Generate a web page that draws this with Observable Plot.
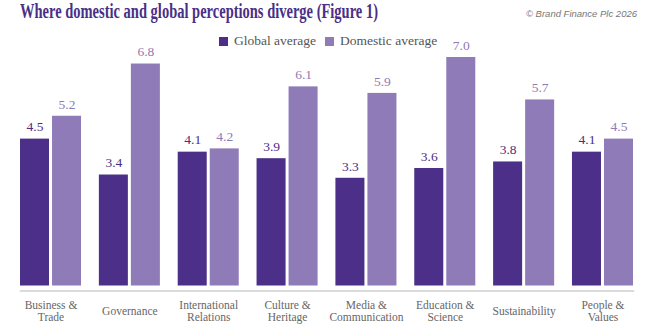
<!DOCTYPE html>
<html>
<head>
<meta charset="utf-8">
<script src="https://cdn.jsdelivr.net/npm/d3@7"></script>
<script src="https://cdn.jsdelivr.net/npm/@observablehq/plot@0.6"></script>
<style>
  html, body { margin: 0; padding: 0; background: #fff; }
  #wrap { position: relative; width: 669px; height: 333px; overflow: hidden; }
  #title { position: absolute; left: 20px; top: 0px; font-family: "Liberation Serif", serif; font-weight: bold; font-size: 20px; color: #4a2f87; white-space: nowrap; transform-origin: left top; }
  #credit { position: absolute; right: 32px; top: 8px; font-family: "Liberation Sans", sans-serif; font-style: italic; font-size: 9.5px; color: #777; white-space: nowrap; }
  #legend { position: absolute; left: 219px; top: 33px; font-family: "Liberation Serif", serif; font-size: 13.5px; color: #555; white-space: nowrap; display: flex; align-items: center; }
  #legend .sw { display: inline-block; width: 9px; height: 9px; margin-right: 6px; }
  #legend .item { display: flex; align-items: center; margin-right: 9px; }
  #chart { position: absolute; left: 0; top: 0; }
</style>
</head>
<body>
<div id="wrap">
  <div id="chart"></div>
  <div id="title">Where domestic and global perceptions diverge (Figure 1)</div>
  <div id="credit">© Brand Finance Plc 2026</div>
  <div id="legend"></div>
</div>
<script>
const categories = ["Business & Trade", "Governance", "International Relations", "Culture & Heritage", "Media & Communication", "Education & Science", "Sustainability", "People & Values"];
const categoryLabels = ["Business &\nTrade", "Governance", "International\nRelations", "Culture &\nHeritage", "Media &\nCommunication", "Education &\nScience", "Sustainability", "People &\nValues"];
const seriesNames = ["Global average", "Domestic average"];
const globalValues = [4.5, 3.4, 4.1, 3.9, 3.3, 3.6, 3.8, 4.1];
const domesticValues = [5.2, 6.8, 4.2, 6.1, 5.9, 7.0, 5.7, 4.5];
const barColors = ["#4b2f88", "#8f7bb8"];
const labelColors = ["#4b2e83", "#8e7ab5"];

const data = [];
categories.forEach((c, i) => {
  data.push({category: c, series: seriesNames[0], value: globalValues[i]});
  data.push({category: c, series: seriesNames[1], value: domesticValues[i]});
});
const labelMap = new Map(categories.map((c, i) => [c, categoryLabels[i]]));

const chart = Plot.plot({
  width: 669,
  height: 333,
  marginTop: 57,
  marginBottom: 47.5,
  marginLeft: 20,
  marginRight: 36,
  style: {background: "transparent"},
  fx: {domain: categories, paddingInner: 0.226, paddingOuter: 0, round: false, label: null},
  x: {domain: seriesNames, paddingInner: 0.094, paddingOuter: 0, round: false, axis: null},
  y: {domain: [0, 7], axis: null},
  color: {domain: seriesNames, range: barColors},
  marks: [
    Plot.frame({facet: "super", anchor: "bottom", stroke: "#cfcfcf", strokeWidth: 1.5, dy: 5}),
    Plot.barY(data, {fx: "category", x: "series", y: "value", fill: "series"}),
    Plot.text(data, {
      fx: "category", x: "series", y: "value",
      text: d => d.value.toFixed(1),
      fill: d => labelColors[seriesNames.indexOf(d.series)],
      dy: -12, fontSize: 13.5,
      fontFamily: "Liberation Serif, serif"
    }),
    Plot.axisFx({
      anchor: "bottom", tickSize: 0, tickPadding: 0, lineAnchor: "middle", dy: 25.5,
      tickFormat: d => labelMap.get(d), fontSize: 11.5, lineHeight: 1,
      fill: "#666", fontFamily: "Liberation Serif, serif", label: null
    })
  ]
});
document.getElementById("chart").appendChild(chart);

const legend = document.getElementById("legend");
seriesNames.forEach((s, i) => {
  const item = document.createElement("span");
  item.className = "item";
  const sw = document.createElement("span");
  sw.className = "sw";
  sw.style.background = barColors[i];
  item.appendChild(sw);
  item.appendChild(document.createTextNode(s));
  legend.appendChild(item);
});

const title = document.getElementById("title");
const w = title.getBoundingClientRect().width;
title.style.transform = `scaleX(${358 / w})`;
</script>
</body>
</html>
